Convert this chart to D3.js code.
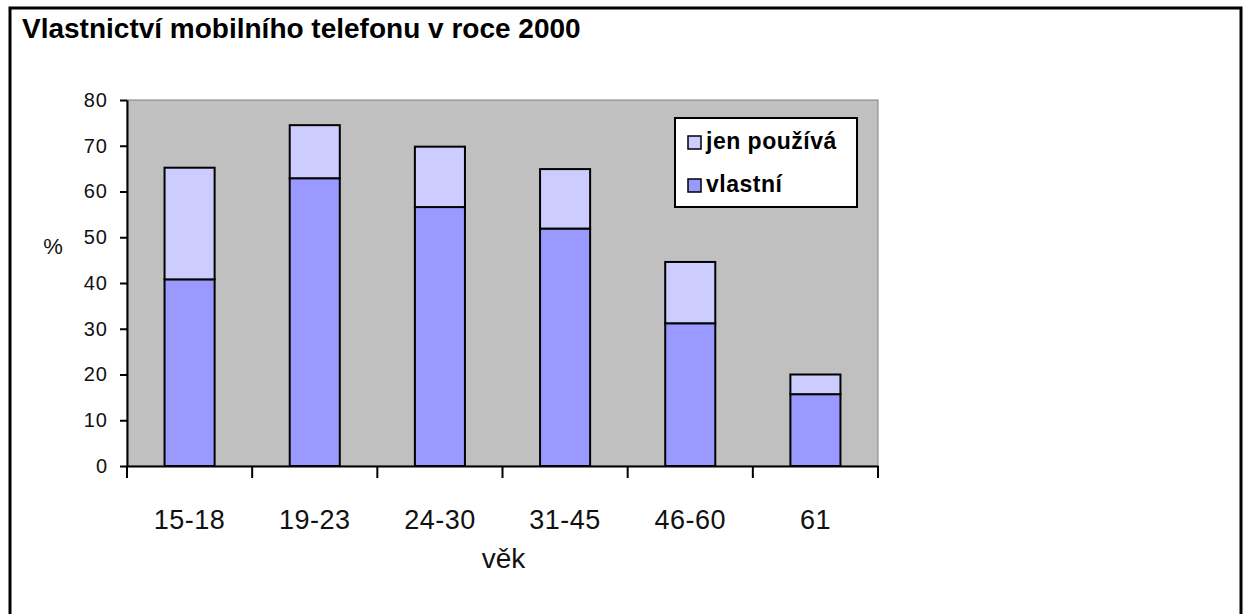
<!DOCTYPE html>
<html>
<head>
<meta charset="utf-8">
<script src="https://cdn.jsdelivr.net/npm/d3@7"></script>
<style>
  body { margin: 0; background: #fff; }
  svg { display: block; font-family: "Liberation Sans", Arial, sans-serif; }
</style>
</head>
<body>
<div id="chart"></div>
<script>
const categories = ["15-18", "19-23", "24-30", "31-45", "46-60", "61"];
const vlastni = [40.8, 62.9, 56.6, 51.9, 31.2, 15.7];
const jenPouziva = [24.4, 11.6, 13.2, 13.0, 13.4, 4.3];
const seriesNames = ["vlastní", "jen používá"];
const seriesColours = ["#9999ff", "#ccccff"];
const yTicks = [0, 10, 20, 30, 40, 50, 60, 70, 80];

const width = 1247, height = 614;
const plot = { left: 127, right: 878, top: 100, bottom: 466 };

const svg = d3.select("#chart").append("svg")
  .attr("width", width)
  .attr("height", height);

// outer frame
svg.append("rect")
  .attr("x", 10).attr("y", 8)
  .attr("width", 1231).attr("height", 620)
  .attr("fill", "none")
  .attr("stroke", "#000")
  .attr("stroke-width", 3);

svg.append("text")
  .attr("x", 22).attr("y", 38)
  .attr("font-size", "28px")
  .attr("font-weight", "bold")
  .text("Vlastnictví mobilního telefonu v roce 2000");

const x = d3.scaleBand()
  .domain(categories)
  .range([plot.left, plot.right])
  .paddingInner(0.6)
  .paddingOuter(0.3);

const y = d3.scaleLinear()
  .domain([0, 80])
  .range([plot.bottom, plot.top]);

// plot area
svg.append("rect")
  .attr("x", plot.left).attr("y", y(80))
  .attr("width", plot.right - plot.left)
  .attr("height", y(0) - y(80))
  .attr("fill", "#c0c0c0")
  .attr("stroke", "#808080")
  .attr("stroke-width", 1);

const table = categories.map((c, i) => ({ cat: c, "vlastní": vlastni[i], "jen používá": jenPouziva[i] }));
const stacked = d3.stack().keys(seriesNames)(table);

svg.append("g").selectAll("g")
  .data(stacked)
  .join("g")
  .attr("fill", (d, i) => seriesColours[i])
  .selectAll("rect")
  .data(d => d)
  .join("rect")
  .attr("x", d => x(d.data.cat))
  .attr("y", d => y(d[1]))
  .attr("width", x.bandwidth())
  .attr("height", d => y(d[0]) - y(d[1]))
  .attr("stroke", "#000")
  .attr("stroke-width", 2);

// y axis
const yAxis = svg.append("g")
  .attr("transform", `translate(${plot.left},0)`)
  .call(d3.axisLeft(y).tickValues(yTicks).tickSize(7).tickSizeOuter(0).tickPadding(12));
yAxis.select(".domain").attr("stroke-width", 2);
yAxis.selectAll(".tick line").attr("stroke-width", 2);
yAxis.selectAll(".tick text")
  .attr("font-size", "20px")
  .attr("font-family", "Liberation Sans, Arial, sans-serif")
  .attr("letter-spacing", "1px")
  .attr("fill", "#111");

// x axis
const xAxis = svg.append("g")
  .attr("transform", `translate(0,${plot.bottom})`)
  .call(d3.axisBottom(x).tickSize(0).tickSizeOuter(0).tickPadding(44));
xAxis.select(".domain").attr("stroke-width", 2);
xAxis.selectAll(".tick text")
  .attr("font-size", "27px")
  .attr("font-family", "Liberation Sans, Arial, sans-serif")
  .attr("letter-spacing", "0.5px")
  .attr("fill", "#111");

// category separators
const bounds = categories.map(c => x(c) - x.step() * x.paddingOuter()).concat([plot.right]);
xAxis.selectAll(".sep")
  .data(bounds)
  .join("line")
  .attr("class", "sep")
  .attr("x1", d => d).attr("x2", d => d)
  .attr("y1", 0).attr("y2", 12)
  .attr("stroke", "#000")
  .attr("stroke-width", 2);

svg.append("text")
  .attr("x", (plot.left + plot.right) / 2 + 1)
  .attr("y", 568)
  .attr("text-anchor", "middle")
  .attr("font-size", "28px")
  .attr("fill", "#111")
  .text("věk");

svg.append("text")
  .attr("x", 53).attr("y", 254)
  .attr("text-anchor", "middle")
  .attr("font-size", "22px")
  .attr("fill", "#111")
  .text("%");

// legend
const legend = svg.append("g").attr("transform", "translate(675,118)");
legend.append("rect")
  .attr("width", 182).attr("height", 89)
  .attr("fill", "#fff")
  .attr("stroke", "#000")
  .attr("stroke-width", 2);

const legendItems = legend.selectAll(".item")
  .data(seriesNames.slice().reverse())
  .join("g")
  .attr("class", "item")
  .attr("transform", (d, i) => `translate(13,${18 + i * 43})`);

legendItems.append("rect")
  .attr("width", 13).attr("height", 13)
  .attr("fill", d => seriesColours[seriesNames.indexOf(d)])
  .attr("stroke", "#000")
  .attr("stroke-width", 1.5);

legendItems.append("text")
  .attr("x", 18).attr("y", 13)
  .attr("font-size", "23px")
  .attr("font-weight", "bold")
  .attr("letter-spacing", "0.5px")
  .text(d => d);
</script>
</body>
</html>
